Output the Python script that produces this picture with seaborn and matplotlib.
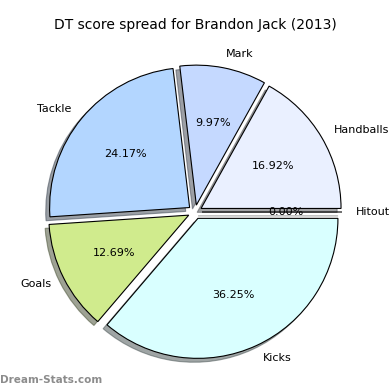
import matplotlib
matplotlib.use("Agg")
import matplotlib.pyplot as plt
import seaborn as sns

sns.set_style("white")
plt.rcParams["text.color"] = "black"

# Data
categories = ["Handballs", "Mark", "Tackle", "Goals", "Kicks", "Hitout"]
shares = [16.92, 9.97, 24.17, 12.69, 36.25, 0.00]
colors = ["#eaf0ff", "#c5d9ff", "#b3d6ff", "#d0eb8d", "#d9ffff", "#ffffff"]
explode = [0.05] * len(categories)

fig = plt.figure(figsize=(3.9, 3.9), dpi=100)
ax = fig.add_axes([0, 0, 1, 1])

wedges, texts, autotexts = ax.pie(
    shares,
    labels=categories,
    colors=colors,
    explode=explode,
    autopct="%1.2f%%",
    shadow=True,
    startangle=0,
    counterclock=True,
    wedgeprops={"edgecolor": "black", "linewidth": 0.8},
    textprops={"fontsize": 8, "color": "black"},
)

# place the pie like the reference: radius ~140px, centre at (195, 212) from top-left
r_px = 140.0
ax.set_xlim(-195 / r_px, 195 / r_px)
ax.set_ylim(-178 / r_px, 212 / r_px)
ax.set_aspect("equal")
ax.axis("off")

fig.text(0.5, 1 - 25 / 390, "DT score spread for Brandon Jack (2013)",
         ha="center", va="center", fontsize=10, color="black")
fig.text(0.0, 1 - 380 / 390, "Dream-Stats.com", ha="left", va="center",
         fontsize=7.5, fontweight="bold", color="#8c8c8c")

fig.savefig("out.png", dpi=100)
